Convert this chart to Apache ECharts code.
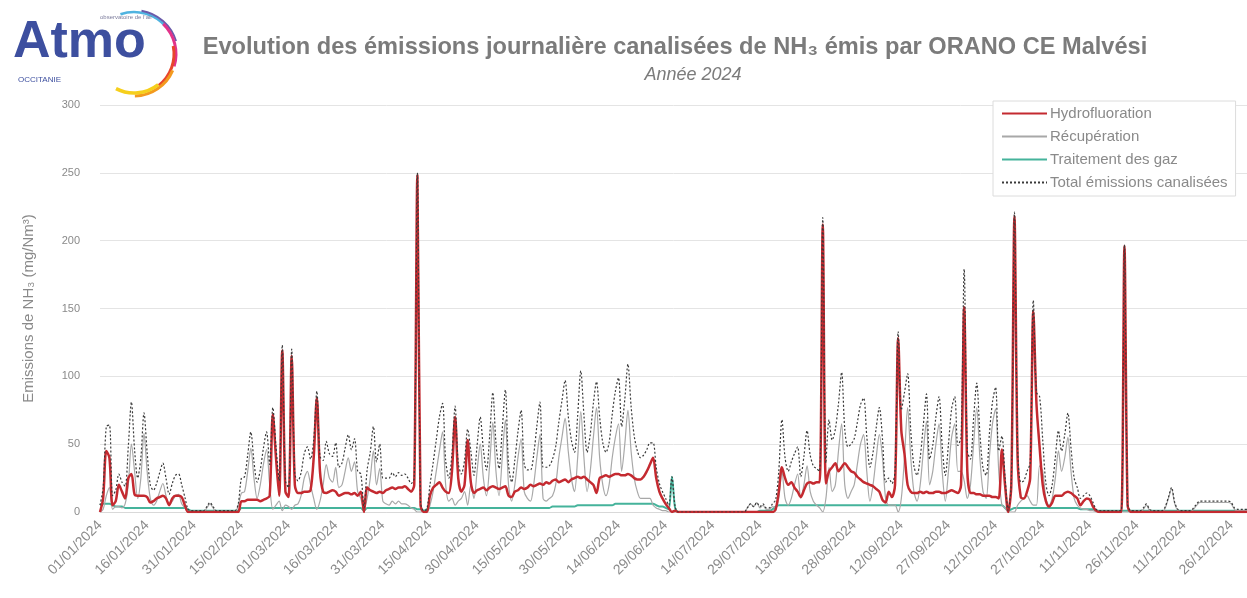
<!DOCTYPE html>
<html><head><meta charset="utf-8">
<script src="https://cdn.jsdelivr.net/npm/echarts@6/dist/echarts.min.js"></script>
<style>html,body{margin:0;padding:0;background:#fff}#c{width:1247px;height:598px}</style>
</head><body><div id="c"></div>
<script>
// Daily values 2024 (mg/Nm3), one line per month
const hydro = [
0,10,45,40,5,8,20,15,10,25,28,13,12,12,12,11,7,8,10,11,12,10,5,10,12,12,11,5,0,0,0,
0,0,0,0,0,0,0,0,0,0,0,0,0,0,8,8,9,9,9,9,8,9,10,12,72,40,12,119,15,
11,115,20,14,14,15,15,16,40,84,30,15,14,15,16,15,12,13,14,14,13,14,12,15,0,18,16,15,14,15,14,
16,17,18,17,18,18,19,17,15,20,248,5,0,0,12,18,20,22,18,15,14,30,70,25,15,20,53,22,14,16,
17,18,16,18,19,18,17,18,19,12,11,15,16,18,17,18,20,19,20,21,20,22,21,23,24,22,23,24,22,24,25,
26,25,26,24,22,20,14,25,26,27,26,27,28,28,27,27,28,27,25,24,24,26,30,35,40,25,15,10,6,3,
0,1,0,0,0,0,0,0,0,0,0,0,0,0,0,0,0,0,0,0,0,0,0,0,0,0,0,0,0,0,0,
0,0,2,15,33,25,20,22,18,15,11,16,21,22,21,22,22,212,21,30,33,36,30,33,36,33,30,29,26,24,22,
21,20,19,17,15,9,7,15,11,20,128,60,43,20,15,14,14,15,14,15,14,14,15,15,14,14,15,16,15,14,
20,151,30,14,14,13,13,12,12,12,11,11,10,46,20,0,20,218,40,11,10,15,25,148,80,48,20,8,4,7,12,
12,12,14,15,14,12,10,5,8,10,9,4,1,0,0,0,0,0,0,0,0,196,5,0,0,0,0,0,0,0,
0,0,0,0,0,0,0,0,0,0,0,0,0,0,0,0,0,0,0,0,0,0,0,0,0,0,0,0,0,0,0
];
const recup = [
0,2,12,18,2,4,4,3,6,20,50,30,10,25,58,30,10,5,8,15,21,12,5,8,12,13,6,3,0,0,0,
0,0,0,3,6,3,0,0,0,0,0,0,0,5,14,15,30,47,25,10,20,35,46,20,2,5,8,1,5,
4,2,5,6,12,25,30,20,10,2,8,20,35,25,22,33,18,20,30,40,30,37,15,10,2,10,25,45,20,32,8,
6,5,8,6,8,6,6,5,3,2,0,0,0,0,5,15,30,45,59,20,8,10,5,8,10,15,5,20,10,30,
50,25,12,35,66,30,12,40,68,20,8,20,40,54,15,10,8,20,40,57,10,8,10,12,20,40,55,69,45,25,15,
40,74,40,15,30,55,77,40,20,12,20,40,55,65,30,50,75,45,25,15,10,10,10,10,5,3,2,1,1,0,
0,0,0,0,0,0,0,0,0,0,0,0,0,0,0,0,0,0,0,0,0,0,0,0,3,6,4,7,3,5,2,
2,4,3,10,30,10,5,10,20,28,10,20,34,15,8,5,3,0,10,33,15,20,45,65,20,10,15,20,35,50,57,
30,8,20,40,57,40,10,5,5,5,0,10,40,77,40,15,8,20,45,67,20,30,50,65,30,8,30,55,65,30,
30,23,10,20,50,77,40,15,10,40,65,76,30,5,3,0,0,0,5,8,10,12,8,5,5,34,30,10,5,10,25,
45,30,40,55,30,10,5,3,2,2,1,1,0,0,0,0,0,0,0,0,0,0,0,0,0,0,0,2,5,1,
0,0,0,0,3,10,17,6,1,0,0,0,0,2,5,7,7,7,7,7,7,7,7,7,7,6,2,1,1,1,1
];
const traitement = [
5,6,6,6,5,4,4,4,3,3,3,3,3,3,3,3,3,3,3,3,3,3,3,3,3,3,3,3,2,1,1,
1,1,1,1,1,1,1,1,1,1,1,1,1,1,3,3,3,3,3,3,3,3,3,3,3,3,3,3,3,
3,3,3,3,3,3,3,3,3,3,3,3,3,3,3,3,3,3,3,3,3,3,3,3,1,3,3,3,3,3,3,
3,3,3,3,3,3,3,3,3,3,2,2,1,2,3,3,3,3,3,3,3,3,3,3,3,3,3,3,3,3,
3,3,3,3,3,3,3,3,3,3,3,3,3,3,3,3,3,3,3,3,3,3,3,4,4,4,4,4,4,4,4,
5,5,5,5,5,5,5,5,5,5,5,5,6,6,6,6,6,6,6,6,6,6,6,6,6,5,4,4,3,2,
26,3,0,0,0,0,0,0,0,0,0,0,0,0,0,0,0,0,0,0,0,0,0,0,0,0,0,0,1,1,1,
1,2,4,5,5,5,5,5,5,5,5,5,5,5,5,5,5,5,5,5,5,5,5,5,5,5,5,5,5,5,5,
5,5,5,5,5,5,5,5,5,5,5,5,5,5,5,5,5,5,5,5,5,5,5,5,5,5,5,5,5,5,
5,5,5,5,5,5,5,5,5,5,5,5,5,5,3,1,2,3,3,3,3,3,3,3,3,3,3,3,3,3,3,
3,3,3,3,3,3,3,2,2,2,2,2,1,1,1,1,1,1,1,1,1,1,1,1,1,1,1,1,1,1,
1,1,1,1,1,1,1,1,1,1,1,1,1,1,1,1,1,1,1,1,1,1,1,1,1,1,1,1,1,1,1
];
const total = [
5,18,63,64,12,16,28,22,19,48,81,46,25,40,73,44,20,16,21,29,36,25,13,21,27,28,20,11,2,1,1,
1,1,1,4,7,4,1,1,1,1,1,1,1,6,25,26,42,59,37,22,31,47,59,35,77,48,23,123,23,
18,120,28,23,29,43,48,39,53,89,41,38,52,43,41,51,33,36,47,57,46,54,30,28,3,31,44,63,37,50,25,
25,25,29,26,29,27,28,25,21,25,250,7,1,2,20,36,53,70,80,38,25,43,78,36,28,38,61,45,27,49,
70,46,31,56,88,51,32,61,90,35,22,38,59,75,35,31,31,42,63,81,33,33,34,39,48,66,82,97,71,53,44,
71,104,71,44,57,80,96,70,51,44,51,72,89,99,63,83,109,78,56,45,40,42,46,51,51,33,21,15,10,5,
26,4,0,0,0,0,0,0,0,0,0,0,0,0,0,0,0,0,0,0,0,0,0,0,3,6,4,7,4,6,3,
3,6,9,30,68,40,30,37,43,48,26,41,60,42,34,32,30,217,36,68,53,61,80,103,61,48,50,54,66,79,84,
56,33,44,62,77,54,22,25,21,30,133,75,88,102,60,34,27,40,64,87,39,49,70,85,49,27,50,76,85,49,
55,179,45,39,69,95,58,32,27,57,81,92,45,56,26,1,22,221,48,22,23,30,36,156,88,85,53,21,12,20,40,
60,45,57,73,47,25,18,10,12,14,12,7,2,1,1,1,1,1,1,1,1,197,6,1,1,1,1,3,6,2,
1,1,1,1,4,11,18,7,2,1,1,1,1,3,6,8,8,8,8,8,8,8,8,8,8,7,3,2,2,2,2
];
const seriesNames = ['Hydrofluoration', 'Récupération', 'Traitement des gaz', 'Total émissions canalisées'];
const yTicks = [0, 50, 100, 150, 200, 250, 300];
const year = 2024;

// category dates dd/mm/2024
const days = [];
for (let d = new Date(Date.UTC(year, 0, 1)); d.getUTCFullYear() === year; d.setUTCDate(d.getUTCDate() + 1)) {
  const dd = String(d.getUTCDate()).padStart(2, '0');
  const mm = String(d.getUTCMonth() + 1).padStart(2, '0');
  days.push(dd + '/' + mm + '/' + year);
}

const chart = echarts.init(document.getElementById('c'), null, {renderer: 'canvas'});
const gray = '#8a8a8a';
const font = "'Liberation Sans', Arial, sans-serif";
const arcs = [
  {c: '#4fb3e0', r: 42, s: -1.9, e: -0.7, w: 2.5},
  {c: '#6a5bab', r: 44, s: -1.4, e: -0.3, w: 2},
  {c: '#e2338a', r: 42, s: -0.8, e: 0.3, w: 3},
  {c: '#e8452c', r: 40, s: -0.2, e: 0.9, w: 3},
  {c: '#f39a1f', r: 42, s: 0.4, e: 1.55, w: 3},
  {c: '#f6cf1c', r: 39, s: 0.9, e: 2.05, w: 3.5}
].map(a => ({type: 'arc', shape: {cx: 134, cy: 54, r: a.r, startAngle: a.s, endAngle: a.e}, style: {stroke: a.c, fill: null, lineWidth: a.w}}));

const option = {
  backgroundColor: '#fff',
  animation: false,
  title: [
    {text: 'Evolution des émissions journalière canalisées de NH\u2083 émis par ORANO CE Malvési', left: 670, top: 30, textAlign: 'center',
     textStyle: {fontFamily: font, fontWeight: 'bold', fontSize: 23.6, color: '#7b7b7b'}},
    {text: 'Année 2024', left: 688, top: 61, textAlign: 'center',
     textStyle: {fontFamily: font, fontStyle: 'italic', fontWeight: 'normal', fontSize: 18, color: '#7b7b7b'}}
  ],
  graphic: arcs.concat([
    {type: 'text', left: 13, top: 17, style: {text: 'Atmo', font: 'bold 52px ' + font, fill: '#3d4f9f'}},
    {type: 'text', left: 100, top: 14, style: {text: 'observatoire de l\u2019air', font: '6px ' + font, fill: '#7d7d9d'}},
    {type: 'text', left: 18, top: 76, style: {text: 'OCCITANIE', font: '8px ' + font, fill: '#3d4f9f'}}
  ]),
  legend: {
    orient: 'vertical', left: 993, top: 101, padding: [5, 8, 6, 8],
    backgroundColor: '#fff', borderColor: '#dcdcdc', borderWidth: 1,
    itemWidth: 45, itemHeight: 14, itemGap: 8,
    itemStyle: {opacity: 0},
    data: seriesNames,
    textStyle: {fontSize: 15, color: '#8a8a8a', fontFamily: font, padding: [0, 0, 0, -2]}
  },
  grid: {left: 100, right: -10, top: 105, bottom: 86, containLabel: false},
  xAxis: {
    type: 'category', data: days, boundaryGap: false,
    axisLine: {show: true, lineStyle: {color: '#d9d9d9'}},
    axisTick: {show: false},
    axisLabel: {interval: 14, rotate: 45, fontSize: 14, color: gray, margin: 11, fontFamily: font},
    splitLine: {show: false}
  },
  yAxis: {
    type: 'value', min: yTicks[0], max: yTicks[yTicks.length - 1], interval: 50,
    name: 'Emissions de NH\u2083 (mg/Nm\u00b3)', nameLocation: 'middle', nameGap: 64, nameRotate: 90,
    nameTextStyle: {fontSize: 15, color: gray, fontFamily: font},
    axisLine: {show: false}, axisTick: {show: false},
    axisLabel: {fontSize: 11, color: gray, margin: 20, fontFamily: font},
    splitLine: {lineStyle: {color: '#e4e4e4', width: 1}}
  },
  series: [
    {name: seriesNames[2], type: 'line', data: traitement, symbol: 'none', smooth: 0.3, lineStyle: {color: '#45b39b', width: 2}, itemStyle: {color: '#45b39b'}, z: 2},
    {name: seriesNames[1], type: 'line', data: recup, symbol: 'none', smooth: 0.3, lineStyle: {color: '#a8a8a8', width: 1.2}, itemStyle: {color: '#a8a8a8'}, z: 3},
    {name: seriesNames[0], type: 'line', data: hydro, symbol: 'none', smooth: 0.3, lineStyle: {color: '#c42a30', width: 2.5}, itemStyle: {color: '#c42a30'}, z: 4},
    {name: seriesNames[3], type: 'line', data: total, symbol: 'none', smooth: 0.3, lineStyle: {color: '#3a3a3a', width: 1.2, type: [2, 2]}, itemStyle: {color: '#3a3a3a'}, z: 5}
  ]
};
chart.setOption(option);
if (hydro.length !== 366 || recup.length !== 366 || traitement.length !== 366 || total.length !== 366) {
  chart.setOption({graphic: [{type: 'text', left: 400, top: 300, style: {text: 'LEN ' + hydro.length + ' ' + recup.length + ' ' + traitement.length + ' ' + total.length, font: '30px sans-serif', fill: 'red'}}]});
}
</script>
</body></html>
